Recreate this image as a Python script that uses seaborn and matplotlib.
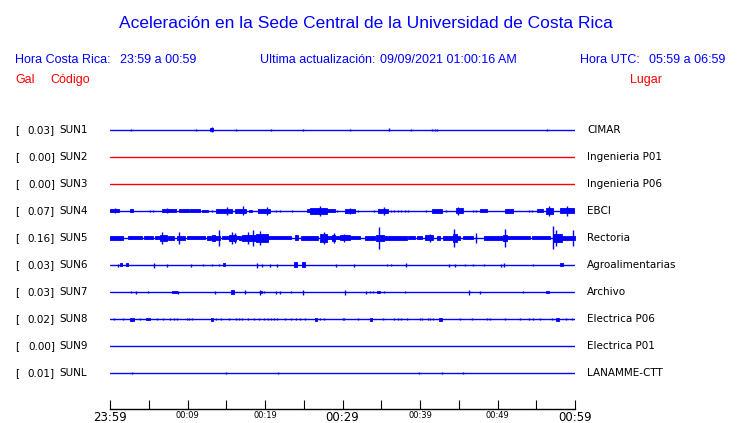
"""Acceleration traces, Sede Central UCR (23:59 - 00:59)."""

import numpy as np
import pandas as pd

import matplotlib
matplotlib.use("Agg")
import matplotlib.pyplot as plt
import seaborn as sns

# --- data ------------------------------------------------------------------
STATIONS = ["SUN1", "SUN2", "SUN3", "SUN4", "SUN5",
            "SUN6", "SUN7", "SUN8", "SUN9", "SUNL"]
PEAK_GAL = [0.03, 0.00, 0.00, 0.07, 0.16, 0.03, 0.03, 0.02, 0.00, 0.01]
PLACES = ["CIMAR", "Ingenieria P01", "Ingenieria P06", "EBCI", "Rectoria",
          "Agroalimentarias", "Archivo", "Electrica P06", "Electrica P01",
          "LANAMME-CTT"]
DEAD = ["SUN2", "SUN3"]          # drawn in red

TIME_TICKS = [0, 5, 10, 15, 20, 25, 30, 35, 40, 45, 50, 55, 60]   # minutes
TIME_LABELS = ["23:59", "", "00:09", "", "00:19", "", "00:29",
               "", "00:39", "", "00:49", "", "00:59"]
BIG_LABELS = ["23:59", "00:29", "00:59"]

# spikes: (minute, half amplitude in px); bursts: (start, end, half amplitude)
SUN1_SPIKES = [(2.75, 1.2), (11.1, 1.2), (13.1, 2.5), (16.3, 0.8), (20.8, 0.8),
               (24.9, 1.2), (31.0, 1.2), (36.0, 1.5), (38.8, 1.2), (41.6, 1.2),
               (41.9, 0.8), (42.2, 1.2), (56.4, 1.2)]
SUN1_BURSTS = [(12.9, 13.3, 1.5)]

SUN4_SPIKES = [(0.65, 2.5), (5.1, 1), (5.6, 1), (7.3, 2.5), (13.1, 1), (15.05, 4),
               (17.1, 4.5), (20.2, 4), (21.4, 1), (21.9, 1), (23.5, 1), (27.1, 5),
               (29.3, 1), (31.0, 3), (32.0, 1), (34.0, 1), (35.3, 4), (36.3, 1),
               (36.7, 1), (37.1, 1), (37.6, 1), (38.0, 1), (38.4, 1), (40.8, 1),
               (43.3, 1), (44.9, 4), (46.8, 1), (47.2, 1), (54.0, 1), (54.4, 1),
               (56.7, 5), (59.0, 5)]
SUN4_BURSTS = [(0.0, 1.16, 1.5), (2.6, 2.97, 1.5), (6.75, 8.5, 1.5), (8.9, 10.2, 1.5),
               (10.3, 11.6, 1.5), (11.9, 12.7, 1.0), (13.7, 15.7, 2.0), (16.1, 17.6, 2.0),
               (17.9, 18.3, 1.0), (19.1, 20.6, 2.0), (25.4, 29.0, 1.5), (25.8, 28.0, 3.0),
               (30.3, 31.6, 2.0), (34.6, 35.9, 2.0), (41.6, 42.8, 2.0), (44.6, 45.6, 2.5),
               (47.7, 48.7, 1.5), (51.0, 52.0, 2.0), (55.1, 55.9, 1.5), (56.2, 57.2, 3.0),
               (58.1, 59.9, 2.5)]

SUN5_SPIKES = [(6.7, 6), (8.9, 6), (14.1, 8), (15.7, 6), (16.1, 5), (17.85, 6),
               (18.5, 8), (19.35, 7), (27.6, 6), (28.9, 5), (30.2, 4), (34.75, 11),
               (41.3, 4), (44.4, 9), (47.2, 5), (51.0, 9), (57.2, 11.5), (57.5, 8),
               (59.7, 8)]
SUN5_BURSTS = [(0.0, 1.7, 2), (2.3, 4.1, 1.5), (4.4, 5.6, 1.5), (5.8, 6.45, 1.5),
               (6.45, 7.3, 3), (7.5, 8.2, 2), (8.6, 9.7, 2), (9.9, 12.3, 1.5),
               (12.5, 14.2, 2), (13.1, 13.5, 3), (14.4, 16.6, 1.5), (15.3, 16.3, 3),
               (16.6, 20.4, 2), (17.0, 19.1, 3), (18.9, 20.4, 4), (20.4, 23.4, 1.5),
               (23.9, 24.3, 2.5), (24.7, 26.9, 2), (27.1, 28.0, 4), (28.0, 30.3, 1.5),
               (28.6, 29.0, 3), (29.7, 31.0, 2.5), (31.0, 32.3, 1.5), (32.9, 34.2, 2),
               (34.3, 35.3, 3), (35.3, 38.3, 2), (38.5, 39.4, 1.5), (39.6, 40.2, 1.5),
               (40.7, 41.7, 2.5), (42.2, 42.6, 2), (43.0, 45.2, 2), (44.2, 44.8, 4),
               (45.6, 46.9, 1.5), (48.2, 50.7, 2), (50.7, 51.2, 3), (51.2, 54.2, 1.5),
               (54.4, 56.8, 1.5), (57.2, 58.3, 4), (58.3, 60.0, 2)]

SUN6_SPIKES = [(1.0, 1.5), (5.7, 2.5), (7.4, 1.5), (10.4, 1.5), (12.0, 1), (13.1, 1),
               (14.0, 1), (19.0, 2.5), (19.6, 1.5), (20.6, 1.5), (21.6, 1.5), (29.1, 1.5),
               (31.5, 1.5), (35.8, 0.7), (36.3, 0.7), (38.2, 2), (43.8, 1.5), (44.5, 1.5),
               (45.8, 1), (46.9, 1), (48.2, 1), (50.4, 1.5), (50.8, 2), (54.6, 1)]
SUN6_BURSTS = [(1.3, 1.6, 1.5), (2.0, 2.3, 1.5), (14.6, 14.9, 1.5), (23.8, 24.1, 2.5),
               (24.8, 25.1, 2.5), (58.1, 58.4, 1.5)]

SUN7_SPIKES = [(2.7, 1), (3.4, 1.5), (4.9, 1), (8.8, 1.5), (13.5, 1.5), (17.4, 2),
               (19.4, 2.5), (19.9, 1), (21.4, 1.5), (21.9, 1.5), (23.4, 1), (24.9, 2.5),
               (30.3, 2.5), (33.0, 1.5), (33.6, 1), (33.9, 1), (35.3, 1), (38.1, 0.7),
               (46.3, 2.5), (47.7, 1.5), (53.3, 1)]
SUN7_BURSTS = [(8.0, 8.6, 1.5), (15.6, 16.0, 2), (19.3, 19.6, 1.5), (34.5, 34.8, 1.5),
               (56.3, 56.7, 1.5)]

SUN8_SPIKES = [(0.56, 1), (1.7, 1), (3.9, 1), (6.0, 1), (6.9, 1), (7.7, 1), (8.3, 1),
               (8.7, 1), (9.9, 1), (10.2, 1), (10.6, 1), (13.7, 1), (14.3, 1), (15.4, 1),
               (16.2, 1), (16.6, 1), (17.0, 1), (17.8, 1), (18.6, 1), (19.2, 1), (19.9, 1),
               (20.4, 1), (20.8, 1), (21.1, 1), (21.6, 1), (22.6, 1), (23.3, 1), (24.0, 1),
               (24.5, 1), (25.1, 1), (27.1, 1), (27.6, 1), (30.1, 1), (30.2, 1), (32.0, 1),
               (35.2, 1), (36.6, 1), (37.2, 1), (37.6, 1), (38.3, 1), (40.0, 1), (40.3, 1),
               (41.0, 1), (41.3, 1), (41.7, 1), (45.1, 1), (46.7, 1), (48.6, 1), (49.0, 1),
               (51.0, 1), (52.9, 1), (54.0, 1), (54.6, 1), (55.5, 1), (57.0, 1), (58.9, 1),
               (59.6, 1)]
SUN8_BURSTS = [(2.6, 3.1, 1.5), (4.6, 5.2, 1.2), (13.0, 13.3, 1.5), (26.4, 26.7, 1.5),
               (33.5, 33.8, 1.5), (42.5, 42.9, 1.5), (57.6, 57.9, 1.5)]

SUNL_SPIKES = [(2.9, 1.2), (15.0, 1.0), (21.7, 1.0), (39.9, 1.0), (42.8, 1.0), (45.6, 1.0)]
SUNL_BURSTS = []

SPIKES = {"SUN1": SUN1_SPIKES, "SUN4": SUN4_SPIKES, "SUN5": SUN5_SPIKES,
          "SUN6": SUN6_SPIKES, "SUN7": SUN7_SPIKES, "SUN8": SUN8_SPIKES,
          "SUNL": SUNL_SPIKES}
BURSTS = {"SUN1": SUN1_BURSTS, "SUN4": SUN4_BURSTS, "SUN5": SUN5_BURSTS,
          "SUN6": SUN6_BURSTS, "SUN7": SUN7_BURSTS, "SUN8": SUN8_BURSTS,
          "SUNL": SUNL_BURSTS}

ROW_PX = 27.0
W, H = 740, 423
BLUE, RED = "#0000ff", "#ff0000"
HEAD = ["Liberation Sans", "DejaVu Sans"]

sns.set_style("white")
plt.rcParams["font.family"] = ["DejaVu Sans"]
plt.rcParams["text.color"] = "black"

fig = plt.figure(figsize=(W / 100, H / 100), dpi=100)

# pixel canvas for all text
bg = fig.add_axes([0, 0, 1, 1])
bg.set_xlim(0, W)
bg.set_ylim(H, 0)
bg.axis("off")

bg.text(366, 23, "Aceleración en la Sede Central de la Universidad de Costa Rica",
        ha="center", va="center", color=BLUE, fontsize=12.5, family=HEAD)
bg.text(15, 60, "Hora Costa Rica:", va="center", color=BLUE, fontsize=9, family=HEAD)
bg.text(120, 60, "23:59 a 00:59", va="center", color=BLUE, fontsize=9, family=HEAD)
bg.text(260, 60, "Ultima actualización:", va="center", color=BLUE, fontsize=9, family=HEAD)
bg.text(380, 60, "09/09/2021 01:00:16 AM", va="center", color=BLUE, fontsize=9, family=HEAD)
bg.text(580, 60, "Hora UTC:", va="center", color=BLUE, fontsize=9, family=HEAD)
bg.text(649, 60, "05:59 a 06:59", va="center", color=BLUE, fontsize=9, family=HEAD)
bg.text(15, 80, "Gal", va="center", color=RED, fontsize=9, family=HEAD)
bg.text(50, 80, "Código", va="center", color=RED, fontsize=9, family=HEAD)
bg.text(630, 80, "Lugar", va="center", color=RED, fontsize=9, family=HEAD)

for i, (st, g, place) in enumerate(zip(STATIONS, PEAK_GAL, PLACES)):
    y = 130 + ROW_PX * i
    bg.text(15, y, "[", va="center", fontsize=7.5, color="black")
    bg.text(55, y, f"{g:.2f}]", ha="right", va="center", fontsize=7.5, color="black")
    bg.text(59, y, st, va="center", fontsize=7.5, color="black")
    bg.text(587, y, place, va="center", fontsize=7.5, color="black")

# traces
ax = fig.add_axes([110 / W, (H - 386.5) / H, 465 / W, 270 / H])
ax.patch.set_alpha(0)

colors = {st: (RED if st in DEAD else BLUE) for st in STATIONS}
base = pd.DataFrame({
    "station": np.repeat(STATIONS, 2),
    "minute": [0, 60] * len(STATIONS),
    "row": np.repeat(np.arange(len(STATIONS)), 2),
})
sns.lineplot(data=base, x="minute", y="row", hue="station", units="station",
             estimator=None, palette=colors, linewidth=1.0, legend=False, ax=ax)

for i, st in enumerate(STATIONS):
    c = colors[st]
    for s, e, a in BURSTS.get(st, []):
        h = a / ROW_PX
        ax.fill_between([s, e], i - h, i + h, color=c, linewidth=0.6)
    sp = SPIKES.get(st, [])
    if sp:
        m = np.array([p[0] for p in sp])
        h = np.array([p[1] for p in sp]) / ROW_PX
        ax.vlines(m, i - h, i + h, color=c, linewidth=1.0)

ax.set_xlim(0, 60)
ax.set_ylim(len(STATIONS) - 0.5, -0.5)
ax.axis("off")

# time axis: ticks point up from the baseline
tax = fig.add_axes([110 / W, (H - 409) / H, 465 / W, 12 / H])
tax.patch.set_alpha(0)
tax.set_xlim(0, 60)
tax.set_yticks([])
for side in ("left", "right", "top"):
    tax.spines[side].set_visible(False)
tax.spines["bottom"].set_color("black")
tax.spines["bottom"].set_linewidth(1.0)
tax.set_xticks(TIME_TICKS)
tax.set_xticklabels(TIME_LABELS)
tax.tick_params(axis="x", bottom=True, direction="in", length=6.5, width=0.8,
                pad=1.5, colors="black")
for lab in tax.get_xticklabels():
    lab.set_fontsize(8.5 if lab.get_text() in BIG_LABELS else 6)

fig.savefig("out.png", dpi=100)
plt.close(fig)
